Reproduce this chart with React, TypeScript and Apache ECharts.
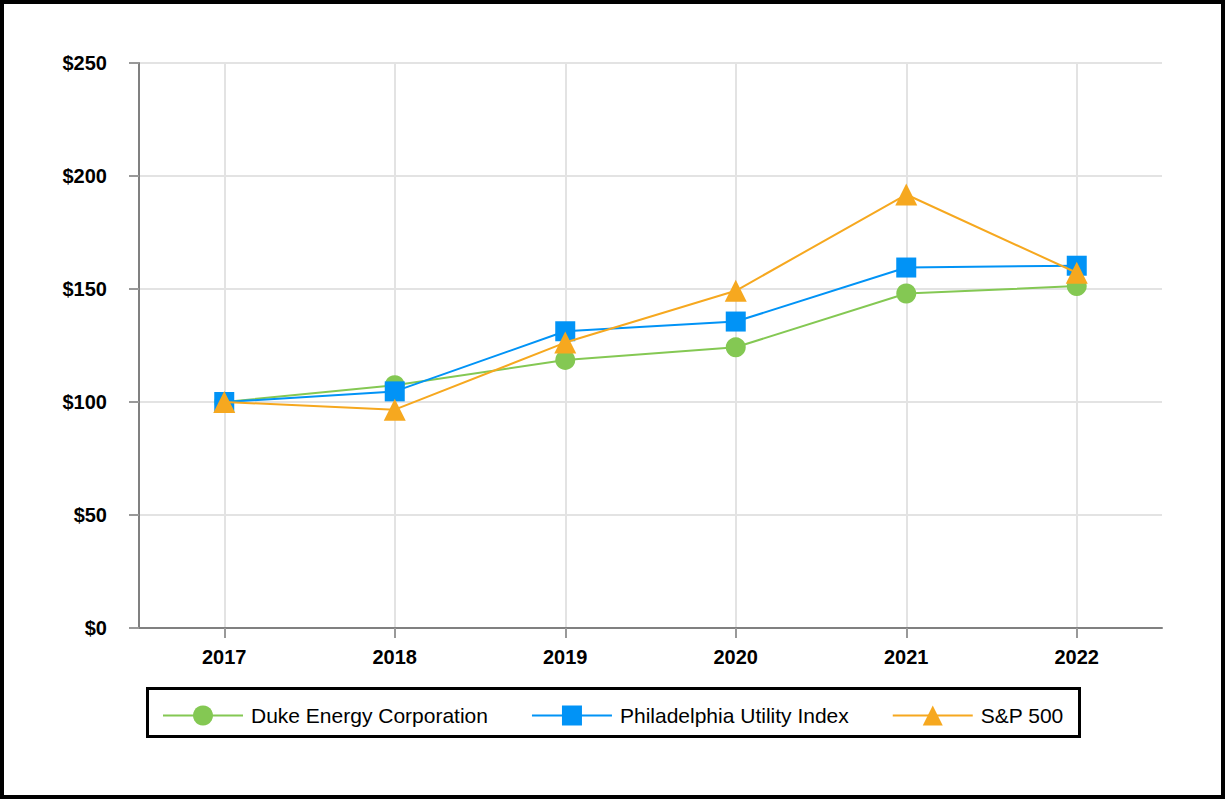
import React, { useEffect, useRef } from "react";
import * as echarts from "echarts";

const years = ["2017", "2018", "2019", "2020", "2021", "2022"];
const seriesNames = ["Duke Energy Corporation", "Philadelphia Utility Index", "S&P 500"];
const dukeEnergy = [100, 107.4, 118.6, 124.2, 148.0, 151.3];
const phillyUtility = [100, 104.7, 131.3, 135.6, 159.5, 160.3];
const sp500 = [100, 96.6, 126.3, 149.2, 191.8, 157.2];
const yMin = 0;
const yMax = 250;
const yStep = 50;

const colors = ["#84C853", "#0193F6", "#F6A81F"];
const symbols = ["circle", "rect", "triangle"];
const symbolSizes = [20, 20, 22];
const FONT = '"Liberation Sans", Arial, sans-serif';

export default function App() {
  const ref = useRef<HTMLDivElement>(null);
  useEffect(() => {
    document.body.style.margin = "0";
    if (!ref.current) return;
    const chart = echarts.init(ref.current, undefined, { renderer: "svg" });
    const data = [dukeEnergy, phillyUtility, sp500];
    chart.setOption({
      animation: false,
      backgroundColor: "#ffffff",
      textStyle: { fontFamily: FONT },
      grid: { left: 139, right: 64, top: 63, bottom: 172, containLabel: false },
      xAxis: {
        type: "category",
        data: years,
        boundaryGap: true,
        axisLine: { lineStyle: { color: "#808080", width: 2 } },
        axisTick: { show: true, alignWithLabel: true, length: 10, lineStyle: { color: "#999999", width: 2 } },
        axisLabel: { color: "#000", fontWeight: "bold", fontSize: 20, fontFamily: FONT, margin: 19 },
        splitLine: { show: true, alignWithLabel: true, lineStyle: { color: "#e3e3e3", width: 2 } },
      },
      yAxis: {
        type: "value",
        min: yMin,
        max: yMax,
        interval: yStep,
        axisLine: { show: true, lineStyle: { color: "#808080", width: 2 } },
        axisTick: { show: true, length: 10, lineStyle: { color: "#999999", width: 2 } },
        axisLabel: {
          color: "#000",
          fontWeight: "bold",
          fontSize: 20,
          fontFamily: FONT,
          margin: 32,
          formatter: (v: number) => "$" + v,
        },
        splitLine: { show: true, lineStyle: { color: "#e3e3e3", width: 2 } },
      },
      legend: {
        left: 157,
        top: 700,
        itemWidth: 80,
        itemHeight: 25,
        itemGap: 43,
        data: seriesNames,
        textStyle: { color: "#000", fontSize: 21, fontFamily: FONT, padding: [0, 0, 0, 3] },
      },
      graphic: [
        {
          type: "rect",
          shape: { x: 2, y: 2, width: 1221, height: 795 },
          style: { fill: "none", stroke: "#000", lineWidth: 4 },
          silent: true,
        },
        {
          type: "rect",
          shape: { x: 147.5, y: 688.5, width: 932, height: 48 },
          style: { fill: "none", stroke: "#000", lineWidth: 3 },
          silent: true,
        },
      ],
      series: seriesNames.map((name, i) => ({
        name,
        type: "line",
        data: data[i],
        symbol: symbols[i],
        symbolSize: symbolSizes[i],
        itemStyle: { color: colors[i] },
        lineStyle: { color: colors[i], width: 2 },
        z: 2 + i,
      })),
    });
    return () => chart.dispose();
  }, []);
  return <div ref={ref} style={{ width: 1226, height: 800 }} />;
}
